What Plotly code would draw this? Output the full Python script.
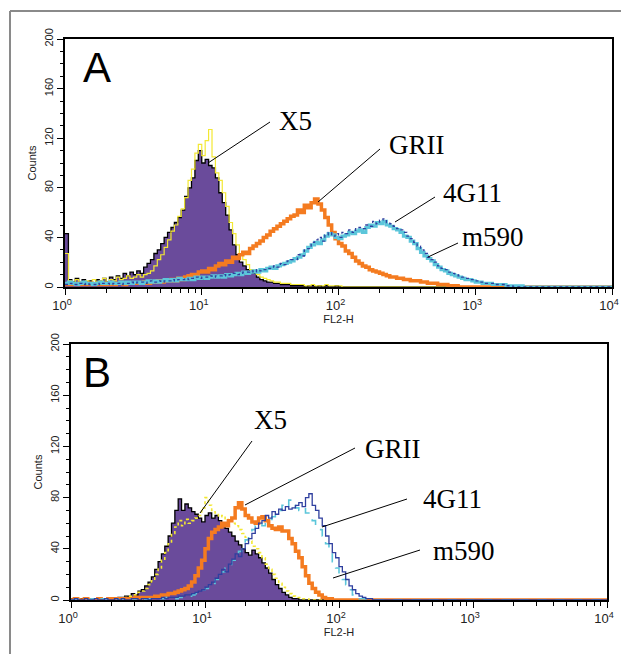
import numpy as np
import plotly.graph_objects as go

# channel grid: 40 channels per decade, 10^0 .. 10^4
N_CH = 161
channels = np.arange(N_CH)
fl2h = 10 ** (channels / 40)

# ---- panel A counts (by channel, starting at channel 0) ----
A_iso = [43, 6, 4, 7, 3, 6, 4, 5, 3, 6, 5, 7, 4, 8, 6, 9, 7, 11, 9, 12,
         10, 13, 11, 16, 19, 22, 27, 30, 35, 40, 44, 48, 52, 56, 62, 73, 80, 88, 102, 110,
         100, 103, 98, 96, 88, 76, 68, 58, 46, 34, 26, 20, 17, 14, 12, 11, 8, 6, 5, 4,
         4, 3, 3, 2, 2, 2, 1, 1, 1, 1, 0, 1, 1, 0, 1, 0, 1, 0, 0, 1, 0]
A_x5 = [27, 5, 3, 6, 4, 2, 5, 3, 6, 4, 5, 7, 3, 6, 5, 8, 6, 7, 9, 7,
        8, 10, 8, 10, 11, 13, 17, 22, 26, 32, 38, 45, 50, 57, 63, 72, 86, 95, 108, 115,
        106, 118, 127, 105, 92, 86, 76, 65, 52, 43, 34, 26, 22, 18, 14, 12, 10, 8, 7, 6,
        5, 4, 4, 3, 3, 3, 2, 2, 2, 2, 1, 1, 2, 1, 1, 1, 2, 1, 1, 1, 1, 0]
A_grii = [2, 3, 2, 2, 3, 2, 2, 3, 2, 2, 3, 2, 3, 2, 2, 3, 3, 2, 3, 3,
          3, 3, 3, 4, 3, 4, 4, 5, 4, 5, 5, 6, 5, 7, 6, 8, 9, 10, 10, 12,
          13, 12, 15, 14, 17, 19, 18, 21, 20, 24, 23, 26, 28, 27, 31, 33, 35, 37, 40, 42,
          45, 47, 49, 51, 53, 55, 57, 58, 62, 60, 66, 64, 68, 71, 67, 62, 56, 50, 44, 39,
          35, 33, 29, 27, 24, 21, 19, 17, 16, 14, 13, 12, 11, 10, 9, 8, 8, 7, 7, 6,
          6, 5, 5, 5, 4, 4, 3, 3, 3, 2, 2, 2, 1, 1, 1, 0]
A_m590 = [3, 4, 3, 2, 3, 4, 3, 3, 2, 3, 4, 3, 3, 4, 3, 3, 4, 3, 4, 3,
          4, 4, 3, 4, 5, 4, 5, 4, 5, 6, 5, 6, 5, 7, 6, 6, 7, 6, 8, 7,
          8, 7, 8, 9, 8, 9, 8, 10, 9, 10, 11, 10, 12, 11, 12, 13, 12, 14, 13, 15,
          16, 15, 17, 18, 19, 20, 21, 23, 24, 26, 29, 32, 34, 36, 35, 38, 41, 43, 42, 40,
          39, 41, 42, 44, 43, 45, 46, 44, 48, 50, 49, 52, 51, 53, 50, 49, 47, 46, 44, 41,
          40, 37, 35, 31, 28, 25, 23, 21, 18, 16, 14, 13, 11, 10, 9, 8, 7, 6, 6, 5,
          4, 4, 3, 3, 3, 2, 2, 2, 2, 1, 1, 1, 1, 1, 0, 0, 0]
A_4g11 = [2, 3, 2, 2, 3, 2, 3, 2, 2, 3, 2, 3, 3, 2, 3, 3, 2, 3, 3, 4,
          3, 4, 4, 3, 4, 5, 4, 5, 4, 5, 5, 6, 5, 6, 6, 7, 6, 7, 8, 7,
          8, 8, 9, 8, 9, 9, 10, 9, 10, 11, 10, 11, 12, 12, 13, 12, 14, 13, 14, 15,
          15, 17, 16, 19, 18, 21, 22, 22, 26, 25, 30, 31, 36, 38, 40, 37, 42, 44, 41, 43,
          40, 44, 43, 46, 44, 47, 48, 47, 50, 49, 53, 51, 54, 55, 52, 51, 49, 47, 46, 44,
          41, 39, 36, 33, 30, 27, 24, 22, 20, 17, 15, 14, 12, 11, 10, 9, 8, 7, 6, 6,
          5, 4, 4, 3, 3, 3, 2, 2, 2, 1, 1]

# ---- panel B counts ----
B_iso = [1, 0, 0, 1, 0, 0, 1, 0, 1, 0, 1, 1, 1, 1, 2, 2, 3, 3, 5, 4,
         7, 8, 11, 14, 18, 24, 30, 36, 42, 50, 60, 70, 79, 70, 75, 72, 69, 67, 64, 61,
         66, 68, 64, 66, 62, 60, 56, 53, 50, 46, 43, 40, 37, 35, 39, 36, 33, 29, 25, 21,
         16, 12, 9, 6, 4, 2, 1, 1, 0]
B_x5 = [0, 1, 0, 0, 1, 0, 0, 1, 0, 0, 1, 0, 1, 1, 1, 2, 2, 3, 4, 4,
        6, 7, 9, 12, 15, 20, 25, 31, 37, 44, 52, 57, 62, 58, 63, 60, 62, 64, 66, 72,
        80, 74, 70, 68, 65, 66, 62, 63, 60, 58, 55, 52, 49, 46, 42, 40, 37, 33, 28, 24,
        20, 17, 13, 10, 7, 5, 3, 2, 2, 1, 1, 0]
B_grii = [0, 1, 0, 0, 1, 0, 0, 0, 1, 0, 0, 1, 0, 1, 0, 1, 1, 1, 1, 2,
          1, 2, 2, 2, 2, 3, 3, 4, 4, 5, 5, 6, 7, 8, 9, 11, 14, 19, 25, 31,
          40, 48, 53, 55, 57, 60, 58, 62, 64, 72, 76, 71, 66, 64, 61, 60, 64, 65, 62, 58,
          56, 55, 57, 54, 54, 48, 44, 38, 33, 26, 19, 13, 9, 6, 4, 2, 1, 1, 0]
B_4g11 = [0, 1, 0, 0, 1, 0, 0, 1, 0, 0, 1, 0, 0, 1, 0, 1, 0, 0, 1, 1,
          0, 1, 1, 0, 1, 1, 1, 2, 1, 2, 2, 2, 3, 3, 4, 4, 5, 6, 7, 8,
          10, 12, 14, 17, 20, 24, 22, 28, 32, 36, 34, 40, 44, 48, 52, 56, 60, 62, 66, 64,
          69, 67, 71, 70, 73, 71, 72, 74, 76, 73, 80, 83, 74, 70, 64, 58, 50, 44, 37, 33,
          26, 22, 16, 11, 8, 5, 3, 2, 1, 1, 0]
B_m590 = [0, 0, 1, 0, 0, 0, 1, 0, 0, 1, 0, 0, 0, 1, 0, 0, 1, 0, 1, 0,
          1, 1, 0, 1, 1, 1, 1, 1, 2, 1, 1, 1, 2, 2, 3, 3, 4, 5, 6, 8,
          9, 11, 13, 16, 19, 22, 25, 27, 31, 35, 38, 43, 47, 51, 55, 58, 60, 58, 62, 63,
          65, 67, 70, 74, 72, 78, 74, 72, 70, 72, 68, 66, 62, 58, 55, 50, 44, 37, 30, 25,
          20, 16, 12, 8, 4, 2, 1, 1, 0]

PURPLE = "#6a4b9b"
YELLOW = "#f3e833"
ORANGE = "#f47b20"
CYAN = "#5cc6da"
BLUE = "#2f3f9f"

W, H = 621, 654


def pad(vals):
    return list(vals) + [0] * (N_CH - len(vals))


def px(x):
    return x / W


def py(y):
    return 1 - y / H


fig = go.Figure()


def add_hist(vals, ax, color, width, dash="solid", fill=False):
    kw = dict(x=fl2h, y=pad(vals), mode="lines", line_shape="hv",
              xaxis="x" + ax, yaxis="y" + ax, showlegend=False, hoverinfo="skip")
    if fill:
        fig.add_trace(go.Scatter(**kw, fill="tozeroy", fillcolor=PURPLE,
                                 line=dict(color="black", width=width)))
    else:
        fig.add_trace(go.Scatter(**kw, line=dict(color=color, width=width, dash=dash)))


# panel A
add_hist(A_iso, "", None, 1.3, fill=True)
add_hist(A_x5, "", YELLOW, 1.2)
add_hist(A_grii, "", ORANGE, 3.5)
add_hist(A_m590, "", CYAN, 3.2)
add_hist(A_4g11, "", BLUE, 1.3, dash="dot")

# panel B
add_hist(B_iso, "2", None, 1.3, fill=True)
add_hist(B_x5, "2", YELLOW, 1.6, dash="dot")
add_hist(B_grii, "2", ORANGE, 3.5)
add_hist(B_m590, "2", CYAN, 1.6, dash="dash")
add_hist(B_4g11, "2", BLUE, 1.3)

small_font = dict(family="Arial, Liberation Sans", size=11, color="#222")


def xaxis(domain, anchor):
    return dict(domain=domain, anchor=anchor, type="log", range=[0, 4], automargin=False,
                tickvals=[1, 10, 100, 1000, 10000],
                ticktext=["10<sup>0</sup>", "10<sup>1</sup>", "10<sup>2</sup>",
                          "10<sup>3</sup>", "10<sup>4</sup>"],
                ticks="outside", ticklen=6, tickwidth=1, tickcolor="black",
                ticklabelshift=-3,
                minor=dict(dtick="D1", ticks="outside", ticklen=4, tickwidth=1,
                           tickcolor="black"),
                showline=True, linecolor="black", linewidth=1.5, mirror=True,
                showgrid=False, zeroline=False,
                tickfont=dict(family="Arial, Liberation Sans", size=13, color="#222"),
                title=dict(text="FL2-H", standoff=2, font=small_font))


def yaxis(domain, anchor):
    return dict(domain=domain, anchor=anchor, range=[0, 200], dtick=40, automargin=False,
                tickangle=-90, ticks="outside", ticklen=6, tickwidth=1, tickcolor="black",
                minor=dict(dtick=10, ticks="outside", ticklen=3, tickwidth=1,
                           tickcolor="black"),
                showline=True, linecolor="black", linewidth=1.5, mirror=True,
                showgrid=False, zeroline=False, tickfont=small_font,
                title=dict(text="Counts", standoff=4, font=small_font))


fig.update_layout(
    width=W, height=H, margin=dict(l=0, r=0, t=0, b=0, autoexpand=False),
    paper_bgcolor="white", plot_bgcolor="white",
    xaxis=xaxis([px(65), px(612)], "y"),
    yaxis=yaxis([py(287), py(39)], "x"),
    xaxis2=xaxis([px(71), px(607)], "y2"),
    yaxis2=yaxis([py(600), py(344)], "x2"),
)

# outer frame: only its top and left sides show in the picture
frame = dict(color="#8a8a8a", width=2)
fig.add_shape(type="line", xref="paper", yref="paper",
              x0=px(10), x1=1, y0=py(11), y1=py(11), line=frame)
fig.add_shape(type="line", xref="paper", yref="paper",
              x0=px(10), x1=px(10), y0=0, y1=py(11), line=frame)

serif = dict(family="Liberation Serif, Times New Roman", size=27, color="black")
sans_big = dict(family="Arial, Liberation Sans", size=42, color="black")


def note(txt, x, y, font):
    fig.add_annotation(text=txt, x=px(x), y=py(y), xref="paper", yref="paper",
                       xanchor="center", yanchor="middle", showarrow=False, font=font)


# panel letters
note("A", 97, 68, sans_big)
note("B", 97, 372, sans_big)

# labels with leader lines: (text, text x, text y, line x0, y0, x1, y1)
labels = [
    ("X5", 295, 121, 270, 122, 208, 163),
    ("GRII", 417, 145, 380, 149, 318, 202),
    ("4G11", 472, 193, 435, 197, 395, 222),
    ("m590", 493, 237, 458, 243, 428, 257),
    ("X5", 270, 420, 252, 441, 200, 513),
    ("GRII", 393, 449, 355, 448, 245, 505),
    ("4G11", 452, 499, 407, 499, 322, 527),
    ("m590", 464, 551, 420, 550, 333, 578),
]
for txt, tx, ty, x0, y0, x1, y1 in labels:
    note(txt, tx, ty, serif)
    fig.add_shape(type="line", xref="paper", yref="paper",
                  x0=px(x0), y0=py(y0), x1=px(x1), y1=py(y1),
                  line=dict(color="black", width=1))

# drop the page's default body margin so the figure sits at the window origin
fig.write_html("out.html", config={"displayModeBar": False},
               post_script="document.body.style.margin='0';"
                           "document.body.style.overflow='hidden';")
